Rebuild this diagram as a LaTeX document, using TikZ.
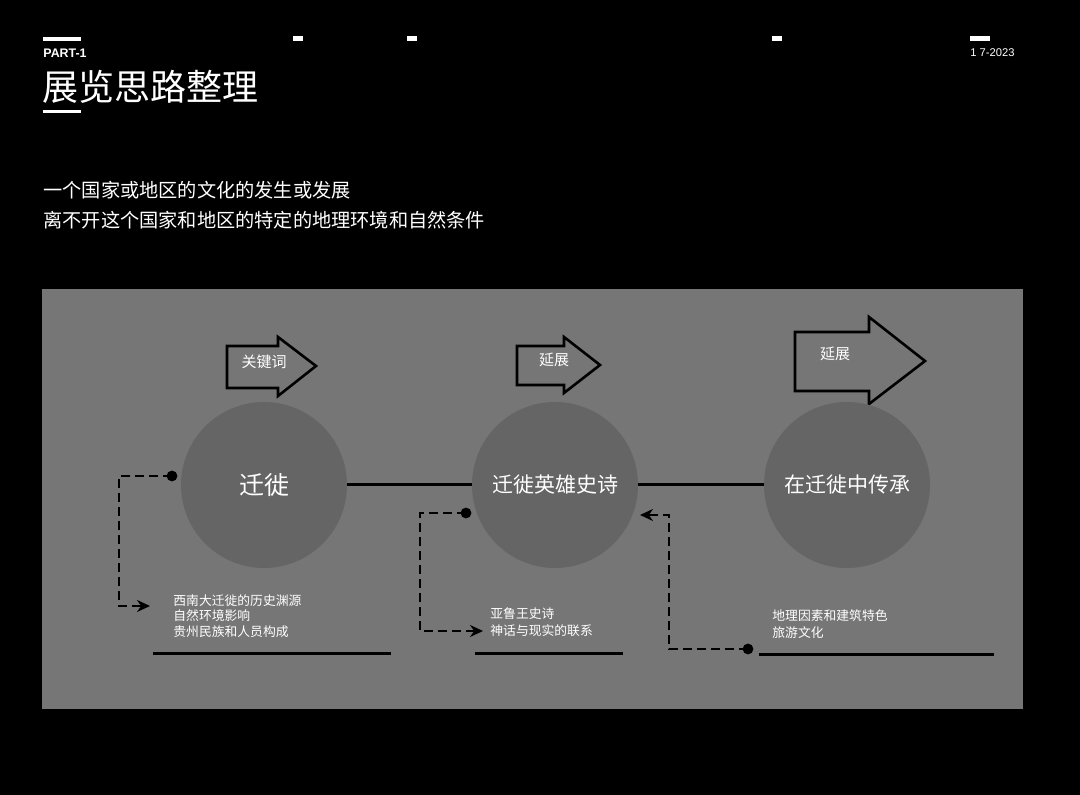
\documentclass[tikz,border=0pt]{standalone}
\usepackage{fontspec}
\setmainfont{Liberation Sans}
\newfontfamily\cjk{Noto Sans CJK SC}
\usetikzlibrary{arrows.meta}
\definecolor{panelGray}{HTML}{767676}
\definecolor{circleGray}{HTML}{656565}

\begin{document}
\begin{tikzpicture}[x=0.5pt, y=-0.5pt,
    topic/.style={circle, fill=circleGray, minimum size=83pt, inner sep=0pt, text=white},
    note/.style={anchor=west, align=left, inner sep=0pt, text=white, font=\cjk\fontsize{6.4}{8}\selectfont},
    link/.style={black, line width=1.3pt, dash pattern=on 4.5pt off 2.5pt},
    bigarrow/.style={draw=black, line width=1.3pt, fill=panelGray, line join=miter},
    rule/.style={black, line width=1.5pt}]
    % page and panel
    \fill[black] (0,0) rectangle (1080,795);
    \useasboundingbox (0,0) rectangle (1080,795);
    \fill[panelGray] (42,289) rectangle (1023,709);
    % header
    \fill[white] (43,37) rectangle (81,41);
    \fill[white] (43,110) rectangle (81,113);
    \fill[white] (293,36) rectangle (303,41);
    \fill[white] (407,36) rectangle (417,41);
    \fill[white] (772,36) rectangle (782,41);
    \fill[white] (970,36) rectangle (990,41);
    \node[anchor=west, inner sep=0pt, text=white, font=\bfseries\fontsize{6.2}{7}\selectfont] (part) at (43,53) {PART-1};
    \node[anchor=west, inner sep=0pt, text=white, font=\fontsize{5.6}{7}\selectfont] (date) at (970,53) {1 7-2023};
    \node[anchor=west, inner sep=0pt, text=white, font=\cjk\fontsize{18}{20}\selectfont] (title) at (42,87) {展览思路整理};
    \node[anchor=west, align=left, inner sep=0pt, text=white, font=\cjk\fontsize{9.6}{15}\selectfont] (sub) at (43,205)
        {一个国家或地区的文化的发生或发展\\离不开这个国家和地区的特定的地理环境和自然条件};
    % block arrows
    \draw[bigarrow] (227,346) -- (278,346) -- (278,337) -- (316,366) -- (278,396) -- (278,388) -- (227,388) -- cycle;
    \draw[bigarrow] (517,346) -- (564,346) -- (564,337) -- (600,365) -- (564,393) -- (564,385) -- (517,385) -- cycle;
    \draw[bigarrow] (795,332) -- (869,332) -- (869,317) -- (925,361) -- (869,404) -- (869,391) -- (795,391) -- cycle;
    \node[text=white, font=\cjk\fontsize{7.5}{9}\selectfont] (k1) at (264,362) {关键词};
    \node[text=white, font=\cjk\fontsize{7.5}{9}\selectfont] (k2) at (554,360) {延展};
    \node[text=white, font=\cjk\fontsize{7.5}{9}\selectfont] (k3) at (835,354) {延展};
    % circles
    \node[topic, font=\cjk\fontsize{12.5}{14}\selectfont] (c1) at (264,485) {迁徙};
    \node[topic, font=\cjk\fontsize{10.5}{12}\selectfont] (c2) at (555,485) {迁徙英雄史诗};
    \node[topic, font=\cjk\fontsize{10.5}{12}\selectfont] (c3) at (847,485) {在迁徙中传承};
    \draw[rule] (c1.east) -- (c2.west);
    \draw[rule] (c2.east) -- (c3.west);
    % notes
    \node[note, font=\cjk\fontsize{6.4}{7.8}\selectfont] (n1) at (173,616)
        {西南大迁徙的历史渊源\\自然环境影响\\贵州民族和人员构成};
    \node[note, font=\cjk\fontsize{6.4}{8.5}\selectfont] (n2) at (490,622) {亚鲁王史诗\\神话与现实的联系};
    \node[note, font=\cjk\fontsize{6.4}{8.3}\selectfont] (n3) at (772,624) {地理因素和建筑特色\\旅游文化};
    \draw[rule] (153,653) -- (391,653);
    \draw[rule] (475,653) -- (623,653);
    \draw[rule] (759,654) -- (994,654);
    % dashed links
    \coordinate (d1) at (172,476);
    \coordinate (e1) at (150,606);
    \coordinate (d2) at (466,513);
    \coordinate (e2) at (483,631);
    \coordinate (d3) at (748,649);
    \coordinate (e3) at (640,515);
    \fill[black] (d1) circle (2.7pt);
    \fill[black] (d2) circle (2.7pt);
    \fill[black] (d3) circle (2.7pt);
    \draw[link, -{Stealth[length=6.5pt, width=6pt]}] (d1) -- (119,476) |- (e1);
    \draw[link, -{Stealth[length=6.5pt, width=6pt]}] (d2) -- (420,513) |- (e2);
    \draw[link, -{Stealth[length=6.5pt, width=6pt]}] (d3) -- (669,649) |- (e3);
\end{tikzpicture}
\end{document}
